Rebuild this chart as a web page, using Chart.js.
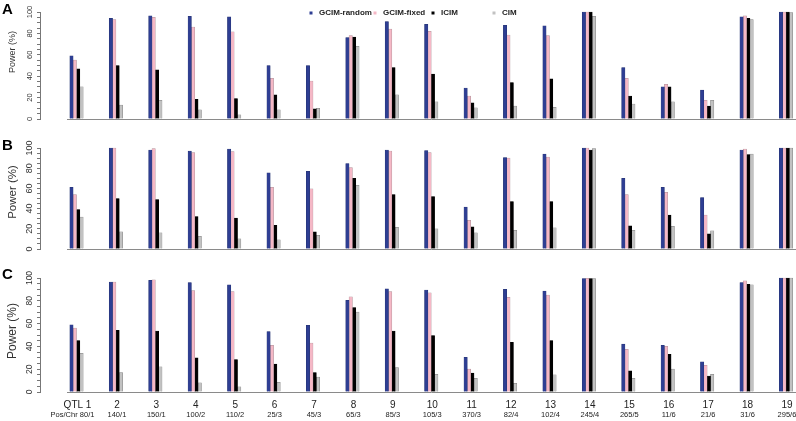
<!DOCTYPE html>
<html>
<head>
<meta charset="utf-8">
<script src="https://cdn.jsdelivr.net/npm/chart.js@4.4.0/dist/chart.umd.min.js"></script>
<style>
  body { margin: 0; background: #fff; }
  #wrap { position: relative; width: 796px; height: 421px; overflow: hidden; }
  canvas { position: absolute; left: 0; }
</style>
</head>
<body>
<div id="wrap">
  <canvas id="chartA" width="796" height="135" style="top:0"></canvas>
  <canvas id="chartB" width="796" height="130" style="top:135px"></canvas>
  <canvas id="chartC" width="796" height="156" style="top:265px"></canvas>
</div>
<script>
// QTL numbers and positions
const qtlNums = ['1', '2', '3', '4', '5', '6', '7', '8', '9', '10', '11', '12', '13', '14', '15', '16', '17', '18', '19'];
const posChr = ['80/1', '140/1', '150/1', '100/2', '110/2', '25/3', '45/3', '65/3', '85/3', '105/3', '370/3', '82/4', '102/4', '245/4', '265/5', '11/6', '21/6', '31/6', '295/6'];
const seriesNames = ['GCIM-random', 'GCIM-fixed', 'ICIM', 'CIM'];
const yTicks = [0, 20, 40, 60, 80, 100];

// Panel A
const aRandom = [59, 94, 96.5, 96, 95.5, 50, 50, 76, 91, 88.5, 29, 87.5, 87, 100, 48, 30, 27, 95.5, 100];
const aFixed  = [55, 93, 95, 86, 81.5, 38, 35.5, 78, 84, 82, 21.5, 78.5, 78, 100, 38, 32.5, 17.5, 96.5, 100];
const aIcim   = [47, 50, 46, 18.5, 19, 22.5, 9.5, 76.5, 48, 42, 15, 34, 37.5, 100, 21.5, 30, 12, 94, 100];
const aCim    = [30, 13, 17.5, 8.5, 4, 8.5, 10, 68, 22.5, 16, 10.5, 12, 11, 96, 14, 16, 17.5, 93, 99.5];

// Panel B
const bRandom = [61, 100, 98, 97, 99, 75.5, 77, 84.5, 98, 97.5, 41.5, 90.5, 94, 100, 70, 61, 51, 98, 100];
const bFixed  = [54, 100, 99.5, 95.5, 96.5, 61, 59.5, 80.5, 97, 95.5, 28.5, 90, 91, 100, 54, 56, 33.5, 99, 100];
const bIcim   = [39, 50, 49, 32, 30.5, 23.5, 17, 70, 54, 52, 22, 47, 47, 98, 23, 33.5, 15, 93.5, 100];
const bCim    = [31.5, 17, 16, 12.5, 10, 9, 13.5, 63, 21.5, 20, 16, 18.5, 21, 99.5, 18.5, 22.5, 18, 94, 100];

// Panel C
const cRandom = [59, 96.5, 98, 96, 94, 53, 58.5, 80.5, 90.5, 89.5, 30.5, 90, 88.5, 99.5, 42, 41, 26.5, 96, 100];
const cFixed  = [56, 96.5, 98.5, 89, 88, 41, 43, 83.5, 88, 87, 20, 83, 85, 99.7, 37.5, 40, 23.5, 97.5, 100];
const cIcim   = [45, 54, 53.5, 30, 28.5, 24.5, 17, 74, 53.5, 49.5, 16.5, 43.5, 45, 99.5, 18.5, 33, 14, 94.5, 100];
const cCim    = [34, 17, 22, 8, 4.5, 8.5, 13, 70, 21.5, 15.5, 12, 7.5, 15, 99.5, 12, 20, 15.5, 94, 100];

const fillColors = ['#2e3e93', '#f5b8c6', '#000000', '#c2c2c2'];
const edgeColors = ['#24326f', '#a88e95', '#000000', '#7d7d7d'];

function toPoints(values) {
    return values.map((v, i) => ({ x: i + 1, y: v }));
}

// Draws the R-style extras: panel letter, axis text, baseline, legend
const panelDecor = {
    id: 'panelDecor',
    afterDraw(chart, args, opts) {
        const ctx = chart.ctx;
        const yScale = chart.scales.y;
        const xScale = chart.scales.x;
        const y0 = yScale.getPixelForValue(0);

        ctx.save();
        // baseline
        ctx.strokeStyle = '#8a8a8a';
        ctx.lineWidth = 1;
        ctx.beginPath();
        ctx.moveTo(67, Math.round(y0) + 0.5);
        ctx.lineTo(796, Math.round(y0) + 0.5);
        ctx.stroke();

        // panel letter
        ctx.fillStyle = '#000';
        ctx.font = 'bold 15px "Liberation Sans", Arial, sans-serif';
        ctx.textAlign = 'left';
        ctx.textBaseline = 'middle';
        ctx.fillText(opts.letter, 2, opts.letterY);

        // rotated y tick labels
        ctx.fillStyle = '#333';
        ctx.font = opts.tickFont + 'px "Liberation Sans", Arial, sans-serif';
        ctx.textAlign = 'center';
        ctx.textBaseline = 'middle';
        yTicks.forEach(t => {
            ctx.save();
            ctx.translate(30, yScale.getPixelForValue(t));
            ctx.rotate(-Math.PI / 2);
            ctx.fillText(String(t), 0, 0);
            ctx.restore();
        });

        // y title
        ctx.save();
        ctx.font = opts.titleFont + 'px "Liberation Sans", Arial, sans-serif';
        ctx.translate(13, opts.titleY);
        ctx.rotate(-Math.PI / 2);
        ctx.fillText('Power (%)', 0, 0);
        ctx.restore();

        // legend
        if (opts.legend) {
            const lx = [311, 375, 433, 494];
            ctx.font = 'bold 8px "Liberation Sans", Arial, sans-serif';
            ctx.textAlign = 'left';
            seriesNames.forEach((name, i) => {
                ctx.fillStyle = fillColors[i];
                ctx.fillRect(lx[i] - 1.5, 11.5, 3, 3);
                ctx.fillStyle = '#222';
                ctx.fillText(name, lx[i] + 8, 13);
            });
        }

        // x labels (canvas-local coordinates)
        if (opts.xLabels) {
            ctx.fillStyle = '#222';
            ctx.textAlign = 'center';
            qtlNums.forEach((n, i) => {
                const px = xScale.getPixelForValue(i + 1) + 1;
                ctx.font = '10px "Liberation Sans", Arial, sans-serif';
                ctx.fillText(i === 0 ? 'QTL ' + n : n, px, 140);
                ctx.font = '7.5px "Liberation Sans", Arial, sans-serif';
                ctx.fillText(i === 0 ? 'Pos/Chr ' + posChr[i] : posChr[i], i === 0 ? px - 5 : px, 150);
            });
        }
        ctx.restore();
    }
};

function makePanel(canvasId, series, padding, decor) {
    const ctx = document.getElementById(canvasId);
    return new Chart(ctx, {
        type: 'bar',
        data: {
            datasets: series.map((values, i) => ({
                label: seriesNames[i],
                data: toPoints(values),
                backgroundColor: fillColors[i],
                borderColor: edgeColors[i],
                borderWidth: 0.5,
                barThickness: 3.35
            }))
        },
        options: {
            responsive: false,
            animation: false,
            clip: false,
            layout: { padding: { top: padding.top, bottom: padding.bottom, left: 0, right: 0 } },
            scales: {
                x: {
                    type: 'linear',
                    offset: false,
                    min: 0.074,
                    max: 19.254,
                    display: false
                },
                y: {
                    min: 0,
                    max: 100,
                    ticks: { display: false, stepSize: 5 },
                    grid: {
                        drawOnChartArea: false,
                        drawTicks: true,
                        tickLength: 3,
                        color: '#777'
                    },
                    border: { color: '#777' },
                    afterFit: function(scale) { scale.width = 40; }
                }
            },
            plugins: {
                legend: { display: false },
                tooltip: { enabled: false },
                panelDecor: decor
            }
        },
        plugins: [panelDecor]
    });
}

makePanel('chartA', [aRandom, aFixed, aIcim, aCim], { top: 12, bottom: 16 },
    { letter: 'A', letterY: 10, tickFont: 7.5, titleFont: 9, titleY: 52, legend: true });
makePanel('chartB', [bRandom, bFixed, bIcim, bCim], { top: 13, bottom: 16 },
    { letter: 'B', letterY: 11, tickFont: 9, titleFont: 11.5, titleY: 57 });
makePanel('chartC', [cRandom, cFixed, cIcim, cCim], { top: 13, bottom: 29 },
    { letter: 'C', letterY: 10, tickFont: 8.5, titleFont: 12, titleY: 66, xLabels: true });
</script>
</body>
</html>
